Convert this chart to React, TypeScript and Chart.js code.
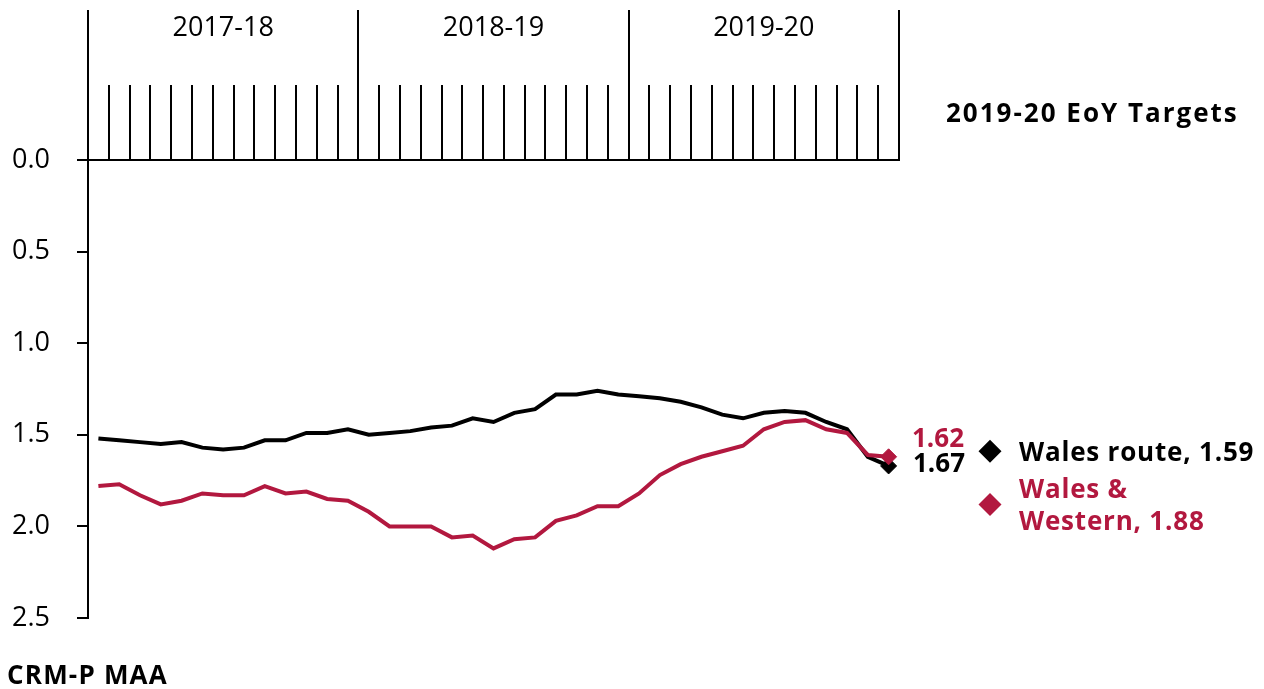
import React, { useEffect, useRef } from 'react';
import { Chart, registerables } from 'chart.js';

Chart.register(...registerables);

const years = ['2017-18', '2018-19', '2019-20'];
const periodsPerYear = 13;
const periods = years.flatMap((y) =>
  Array.from({ length: periodsPerYear }, (_, i) => `${y} P${String(i + 1).padStart(2, '0')}`)
);

const yTicks = [0, 0.5, 1.0, 1.5, 2.0, 2.5];

const walesRoute = [
  1.52, 1.53, 1.54, 1.55, 1.54, 1.57, 1.58, 1.57, 1.53, 1.53,
  1.49, 1.49, 1.47, 1.50, 1.49, 1.48, 1.46, 1.45, 1.41, 1.43,
  1.38, 1.36, 1.28, 1.28, 1.26, 1.28, 1.29, 1.30, 1.32, 1.35,
  1.39, 1.41, 1.38, 1.37, 1.38, 1.43, 1.47, 1.62, 1.67,
];

const walesWestern = [
  1.78, 1.77, 1.83, 1.88, 1.86, 1.82, 1.83, 1.83, 1.78, 1.82,
  1.81, 1.85, 1.86, 1.92, 2.00, 2.00, 2.00, 2.06, 2.05, 2.12,
  2.07, 2.06, 1.97, 1.94, 1.89, 1.89, 1.82, 1.72, 1.66, 1.62,
  1.59, 1.56, 1.47, 1.43, 1.42, 1.47, 1.49, 1.61, 1.62,
];

const seriesNames = ['Wales route', 'Wales & Western'];
const targetValues = [1.59, 1.88];
const targetTitle = '2019-20 EoY Targets';
const axisTitle = 'CRM-P MAA';

const BLACK = '#000000';
const RED = '#B2183F';
const BOLD = 'bold 26px "Open Sans"';
const REG = '27px "Open Sans"';

const overlay = {
  id: 'overlay',
  afterDraw(chart: any) {
    const ctx = chart.ctx as any;
    const { left, right, top } = chart.chartArea;
    const yS = chart.scales.y;
    const n = periods.length;
    const w = (right - left) / n;
    ctx.save();
    ctx.strokeStyle = BLACK;
    ctx.lineWidth = 2;
    ctx.beginPath();
    ctx.moveTo(left, top);
    ctx.lineTo(right + 1, top);
    ctx.stroke();
    for (let j = 0; j <= n; j++) {
      const x = Math.round(left + j * w);
      const isYear = j % periodsPerYear === 0;
      ctx.beginPath();
      ctx.moveTo(x, isYear ? top - 150 : top - 75);
      ctx.lineTo(x, top);
      ctx.stroke();
    }
    // year labels
    ctx.fillStyle = BLACK;
    ctx.font = REG;
    ctx.textAlign = 'center';
    ctx.textBaseline = 'alphabetic';
    years.forEach((y, k) => {
      const x0 = left + k * periodsPerYear * w;
      const x1 = left + (k + 1) * periodsPerYear * w;
      ctx.fillText(y, (x0 + x1) / 2, top - 124);
    });

    // end values
    ctx.textAlign = 'left';
    ctx.font = BOLD;
    const lastW = walesWestern[walesWestern.length - 1];
    const lastR = walesRoute[walesRoute.length - 1];
    ctx.fillStyle = RED;
    ctx.fillText(lastW.toFixed(2), right + 13, yS.getPixelForValue(lastW) - 10);
    ctx.fillStyle = BLACK;
    ctx.fillText(lastR.toFixed(2), right + 14, yS.getPixelForValue(lastR) + 6);

    // targets
    ctx.fillStyle = BLACK;
    ctx.letterSpacing = '2px';
    ctx.fillText(targetTitle, right + 47, top - 38);
    ctx.letterSpacing = '0.8px';
    const colors = [BLACK, RED];
    const lines = [
      [`${seriesNames[0]}, ${targetValues[0].toFixed(2)}`],
      ['Wales &', `Western, ${targetValues[1].toFixed(2)}`],
    ];
    targetValues.forEach((v, i) => {
      const y = yS.getPixelForValue(v);
      const cx = right + 91;
      const r = 11.5;
      ctx.fillStyle = colors[i];
      ctx.beginPath();
      ctx.moveTo(cx, y - r);
      ctx.lineTo(cx + r, y);
      ctx.lineTo(cx, y + r);
      ctx.lineTo(cx - r, y);
      ctx.closePath();
      ctx.fill();
      const ls = lines[i];
      const lh = 32;
      const b0 = y + 10 - ((ls.length - 1) * lh) / 2;
      ls.forEach((t, k) => ctx.fillText(t, right + 120, b0 + k * lh));
    });

    // axis title
    ctx.fillStyle = BLACK;
    ctx.letterSpacing = '1.2px';
    ctx.fillText(axisTitle, 7, chart.height - 5);
    ctx.letterSpacing = '0px';
    ctx.restore();
  },
};

export default function App() {
  const ref = useRef<HTMLCanvasElement>(null);
  useEffect(() => {
    if (!ref.current) return;
    const last = periods.length - 1;
    const chart = new Chart(ref.current, {
      type: 'line',
      data: {
        labels: periods,
        datasets: [
          {
            label: seriesNames[1],
            data: walesWestern,
            borderColor: RED,
            backgroundColor: RED,
            borderWidth: 4,
            pointRadius: (c: any) => (c.dataIndex === last ? 8 : 0),
            pointStyle: 'rectRot',
            pointBackgroundColor: RED,
            pointBorderColor: RED,
            pointBorderWidth: 1,
            tension: 0,
            order: 0,
          },
          {
            label: seriesNames[0],
            data: walesRoute,
            borderColor: BLACK,
            backgroundColor: BLACK,
            borderWidth: 4,
            pointRadius: (c: any) => (c.dataIndex === last ? 8 : 0),
            pointStyle: 'rectRot',
            pointBackgroundColor: BLACK,
            pointBorderColor: BLACK,
            pointBorderWidth: 1,
            tension: 0,
            order: 1,
          },
        ],
      },
      options: {
        animation: false,
        responsive: true,
        maintainAspectRatio: false,
        layout: { padding: { top: 160, right: 365, bottom: 71, left: 0 } },
        plugins: { legend: { display: false }, tooltip: { enabled: false } },
        scales: {
          x: { type: 'category', display: false, offset: true },
          y: {
            reverse: true,
            min: 0,
            max: 2.5,
            afterBuildTicks: (s: any) => {
              s.ticks = yTicks.map((v) => ({ value: v }));
            },
            afterFit: (s: any) => {
              s.width = 88;
            },
            ticks: {
              color: BLACK,
              font: { family: '"Open Sans"', size: 27 },
              padding: 27,
              callback: (v: any) => Number(v).toFixed(1),
            },
            grid: {
              drawOnChartArea: false,
              drawTicks: true,
              tickLength: 11,
              color: BLACK,
              tickColor: BLACK,
              lineWidth: 2,
            },
            border: { display: true, color: BLACK, width: 2 },
          },
        },
      },
      plugins: [overlay],
    });
    return () => chart.destroy();
  }, []);
  return (
    <div style={{ position: 'absolute', left: 0, top: 0, width: 1264, height: 689, background: '#fff' }}>
      <canvas ref={ref} />
    </div>
  );
}
